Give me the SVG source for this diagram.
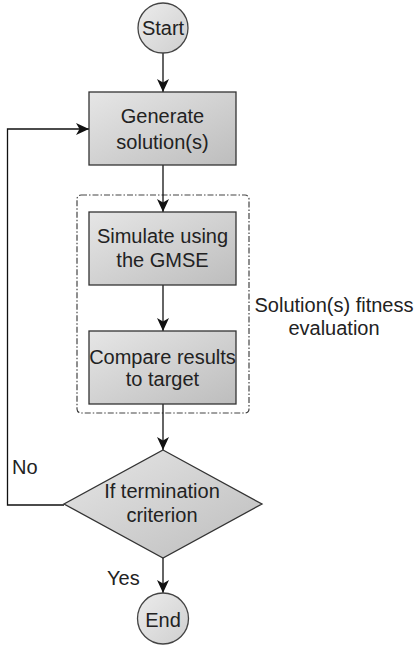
<svg xmlns="http://www.w3.org/2000/svg" width="417" height="651" viewBox="0 0 417 651">
<defs>
<linearGradient id="g" x1="0" y1="0" x2="1" y2="1">
<stop offset="0" stop-color="#e6e6e6"/>
<stop offset="1" stop-color="#bdbdbd"/>
</linearGradient>
<linearGradient id="gc" x1="0" y1="0" x2="1" y2="1">
<stop offset="0" stop-color="#ececec"/>
<stop offset="1" stop-color="#cfcfcf"/>
</linearGradient>
<marker id="arr" markerUnits="userSpaceOnUse" markerWidth="14" markerHeight="12" refX="13" refY="6" orient="auto">
<path d="M0,0 L13,6 L0,12 L3.5,6 z" fill="#111"/>
</marker>
</defs>
<style>
.box{fill:url(#g);stroke:#333;stroke-width:1.3}
.circ{fill:url(#gc);stroke:#444;stroke-width:1.3}
.t{font-family:"Liberation Sans",Arial,sans-serif;font-size:20px;fill:#222;text-anchor:middle}
.l{font-family:"Liberation Sans",Arial,sans-serif;font-size:20px;fill:#222}
.c{fill:none;stroke:#111;stroke-width:1.3}
.grp{fill:none;stroke:#444;stroke-width:1.2;stroke-dasharray:6 2 1.5 2}
</style>
<g id="container">
<rect class="grp" x="77" y="195" width="172" height="218" rx="4"/>
<text class="t" x="334" y="312">Solution(s) fitness</text>
<text class="t" x="334" y="335">evaluation</text>
</g>
<g id="connectors">
<line class="c" x1="163" y1="53" x2="163" y2="92" marker-end="url(#arr)"/>
<line class="c" x1="163" y1="165" x2="163" y2="212" marker-end="url(#arr)"/>
<line class="c" x1="163" y1="285" x2="163" y2="331" marker-end="url(#arr)"/>
<line class="c" x1="163" y1="404" x2="163" y2="450" marker-end="url(#arr)"/>
<line class="c" x1="163" y1="558" x2="163" y2="593" marker-end="url(#arr)"/>
<polyline class="c" points="64,505 7.5,505 7.5,129 89,129" marker-end="url(#arr)"/>
<text class="l" x="12" y="474">No</text>
<text class="l" x="107" y="585">Yes</text>
</g>
<g id="start">
<circle class="circ" cx="163" cy="28" r="25"/>
<text class="t" x="163" y="35">Start</text>
</g>
<g id="generate">
<rect class="box" x="89" y="92" width="147" height="73"/>
<text class="t" x="162.5" y="123">Generate</text>
<text class="t" x="162.5" y="149">solution(s)</text>
</g>
<g id="simulate">
<rect class="box" x="89" y="212" width="147" height="73"/>
<text class="t" x="162.5" y="243">Simulate using</text>
<text class="t" x="162.5" y="267">the GMSE</text>
</g>
<g id="compare">
<rect class="box" x="89" y="331" width="147" height="73"/>
<text class="t" x="162.5" y="364">Compare results</text>
<text class="t" x="162.5" y="386">to target</text>
</g>
<g id="decision">
<polygon class="box" points="163,450 262,504 163,558 64,504"/>
<text class="t" x="162" y="498">If termination</text>
<text class="t" x="162" y="522">criterion</text>
</g>
<g id="end">
<circle class="circ" cx="163" cy="618.5" r="25.5"/>
<text class="t" x="163" y="627">End</text>
</g>
</svg>
